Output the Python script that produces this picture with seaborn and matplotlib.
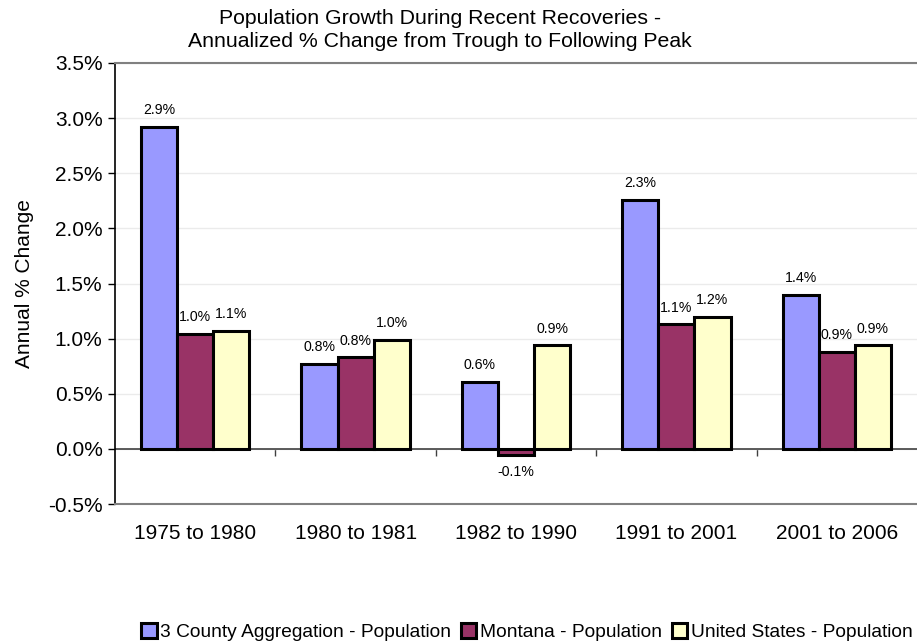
import matplotlib
matplotlib.use("Agg")
import matplotlib.pyplot as plt
import seaborn as sns
import pandas as pd
from matplotlib.ticker import FuncFormatter, MultipleLocator

# data (annualized % change)
periods = ['1975 to 1980', '1980 to 1981', '1982 to 1990', '1991 to 2001', '2001 to 2006']
series = ['3 County Aggregation - Population', 'Montana - Population', 'United States - Population']
county = [2.92, 0.77, 0.61, 2.26, 1.40]
montana = [1.04, 0.83, -0.06, 1.13, 0.88]
us = [1.07, 0.99, 0.94, 1.20, 0.94]
colors = ['#9999FF', '#993366', '#FFFFCC']

df = pd.DataFrame({
    'Period': periods * 3,
    'Series': [series[0]] * 5 + [series[1]] * 5 + [series[2]] * 5,
    'Value': county + montana + us,
})

sns.set_style("white")
plt.rcParams['font.family'] = ['Liberation Sans', 'DejaVu Sans']
plt.rcParams['text.color'] = 'black'
plt.rcParams['axes.labelcolor'] = 'black'
plt.rcParams['xtick.color'] = 'black'
plt.rcParams['ytick.color'] = 'black'

fig = plt.figure(figsize=(9.17, 6.43), dpi=100)
ax = fig.add_axes([115 / 917, 1 - 504 / 643, 1 - 115 / 917, (504 - 63) / 643])

sns.barplot(data=df, x='Period', y='Value', hue='Series', order=periods,
            hue_order=series, palette=colors, width=0.675, edgecolor='black',
            linewidth=2.2, saturation=1, ax=ax, zorder=3)

# value labels
for cont in ax.containers:
    for bar in cont:
        h = bar.get_height()
        x = bar.get_x() + bar.get_width() / 2
        if h >= 0:
            ax.annotate(f"{h:.1f}%", (x, h), xytext=(0, 7), textcoords='offset points',
                        ha='center', va='bottom', fontsize=10.2)
        else:
            ax.annotate(f"{h:.1f}%", (x, h), xytext=(0, -7), textcoords='offset points',
                        ha='center', va='top', fontsize=10.2)

ax.set_ylim(-0.5, 3.5)
ax.set_xlim(-0.5, 4.5)
ax.yaxis.set_major_locator(MultipleLocator(0.5))
ax.yaxis.set_major_formatter(FuncFormatter(lambda v, p: f"{v:.1f}%"))
ax.grid(axis='y', color='#ebebeb', linewidth=1, zorder=0)
ax.tick_params(axis='y', left=True, length=5, width=1, color='black', labelsize=15, pad=4)
ax.tick_params(axis='x', bottom=False, labelsize=15, pad=11)
ax.set_xlabel('')
ax.set_ylabel('Annual % Change', fontsize=15, labelpad=10)

for side in ['top', 'bottom']:
    ax.spines[side].set_color('#808080')
    ax.spines[side].set_linewidth(1.5)
ax.spines['left'].set_color('black')
ax.spines['left'].set_linewidth(1.2)
ax.spines['right'].set_visible(False)

# zero axis line with category separators
ax.axhline(0, color='#404040', linewidth=1.2, zorder=2)
sec = ax.secondary_xaxis(0.125)
sec.set_xticks([0.5, 1.5, 2.5, 3.5])
sec.set_xticklabels([])
sec.tick_params(length=5, width=1, color='#404040', direction='out')
sec.spines['bottom'].set_visible(False)

# title
fig.text(440 / 917, 1 - 30 / 643,
         'Population Growth During Recent Recoveries -\nAnnualized % Change from Trough to Following Peak',
         ha='center', va='center', fontsize=15.3, linespacing=1.3)

handles, labels = ax.get_legend_handles_labels()
ax.legend_.remove()
fig.legend(handles, labels, loc='center', bbox_to_anchor=(527 / 917, 1 - 632 / 643),
           ncol=3, frameon=False, fontsize=13.8, handlelength=0.8, handleheight=0.8,
           handletextpad=0.2, columnspacing=0.5, borderaxespad=0)

fig.savefig('out.png', dpi=100)
